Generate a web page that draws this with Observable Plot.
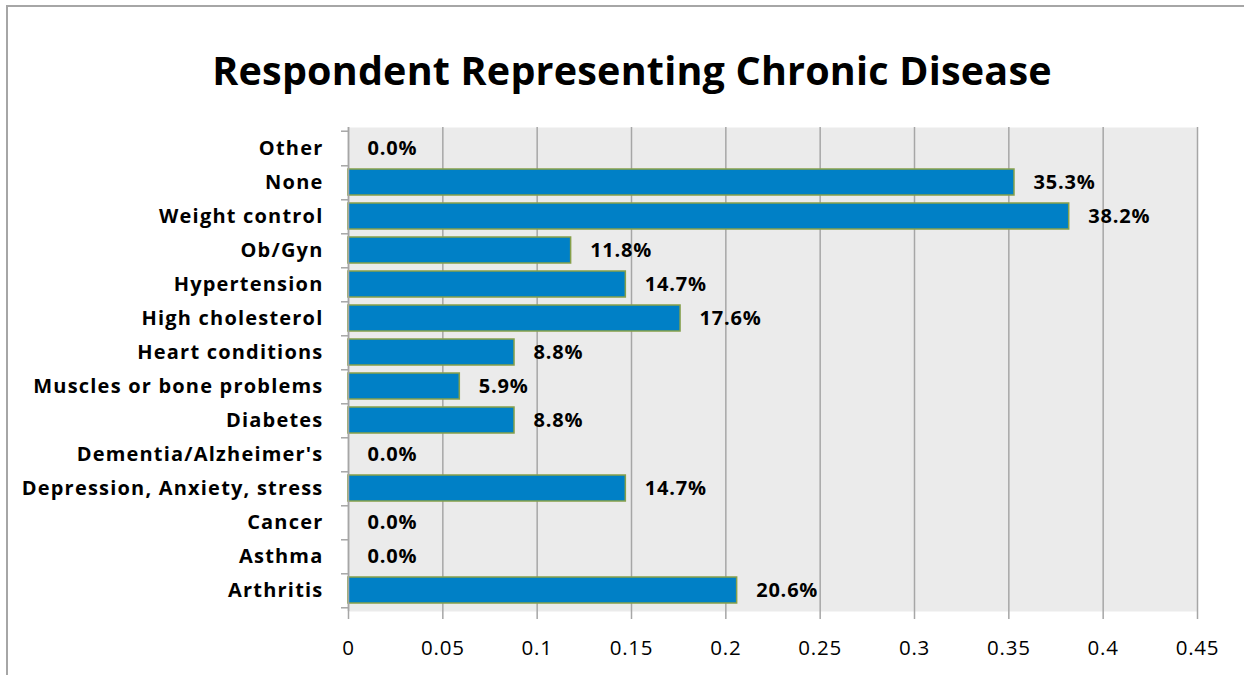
<!DOCTYPE html>
<html>
<head>
<meta charset="utf-8">
<script src="https://cdn.jsdelivr.net/npm/d3@7"></script>
<script src="https://cdn.jsdelivr.net/npm/@observablehq/plot@0.6"></script>
<style>
  html, body { margin: 0; padding: 0; background: #fff; }
  #wrap { position: relative; width: 1244px; height: 675px; overflow: hidden; }
  #frame { position: absolute; left: 6px; top: 5px; width: 1300px; height: 700px;
           border-left: 2px solid #a6a6a6; border-top: 2px solid #a6a6a6; box-sizing: border-box; }
  #title { position: absolute; left: 0; top: 0; width: 1264px; height: 100px; text-align: center;
           font-family: "Open Sans", sans-serif; font-weight: bold; font-size: 39.5px; letter-spacing: 0.2px; line-height: 140px; color: #000; }
  #chart { position: absolute; left: 0; top: 100px; }
  .ylab text { letter-spacing: 1.2px; }
  .vlab text { letter-spacing: 0.8px; }
  .xlab text { letter-spacing: 0.8px; }
</style>
</head>
<body>
<div id="wrap">
  <div id="frame"></div>
  <div id="title">Respondent Representing Chronic Disease</div>
  <div id="chart"></div>
</div>
<script>
const categories = ["Other", "None", "Weight control", "Ob/Gyn", "Hypertension", "High cholesterol",
  "Heart conditions", "Muscles or bone problems", "Diabetes", "Dementia/Alzheimer's",
  "Depression, Anxiety, stress", "Cancer", "Asthma", "Arthritis"];
const values = [0, 0.353, 0.382, 0.118, 0.147, 0.176, 0.088, 0.059, 0.088, 0, 0.147, 0, 0, 0.206];
const valueLabels = ["0.0%", "35.3%", "38.2%", "11.8%", "14.7%", "17.6%", "8.8%", "5.9%", "8.8%", "0.0%", "14.7%", "0.0%", "0.0%", "20.6%"];
const xTicks = [0, 0.05, 0.1, 0.15, 0.2, 0.25, 0.3, 0.35, 0.4, 0.45];
const xTickLabels = ["0", "0.05", "0.1", "0.15", "0.2", "0.25", "0.3", "0.35", "0.4", "0.45"];

const data = categories.map((c, i) => ({category: c, value: values[i], label: valueLabels[i]}));

const W = 1244, H = 575, mT = 27, mB = 64, mL = 348, mR = 47;
const step = (H - mT - mB) / categories.length;

const chart = Plot.plot({
  width: W, height: H,
  marginTop: mT, marginBottom: mB, marginLeft: mL, marginRight: mR,
  style: {fontFamily: "Open Sans, sans-serif", background: "transparent", color: "#000"},
  x: {domain: [0, 0.45]},
  y: {domain: categories, paddingInner: 0.25, paddingOuter: 0.125},
  marks: [
    Plot.frame({fill: "#ebebeb", stroke: null}),
    Plot.gridX(xTicks, {stroke: "#a6a6a6", strokeOpacity: 1, strokeWidth: 1.5}),
    Plot.barX(data, {x: "value", y: "category", fill: "#0080c6", stroke: "#86a04a", strokeWidth: 1.5}),
    Plot.text(data, {x: "value", y: "category", text: "label", textAnchor: "start", dx: 19,
      fontWeight: "bold", fontSize: 20, fill: "#000", className: "vlab"}),
    Plot.ruleX([0], {stroke: "#a6a6a6", strokeWidth: 1.5}),
    Plot.ruleY([0], {stroke: "#a6a6a6", strokeWidth: 1.5}),
    Plot.axisX({ticks: xTicks, tickFormat: (d, i) => xTickLabels[i], tickSize: 8, tickPadding: 21,
      stroke: "#a6a6a6", strokeWidth: 1.5, strokeOpacity: 1, fontSize: 20.5, label: null, className: "xlab"}),
    Plot.axisY({tickSize: 0, tickPadding: 25, fontSize: 20, fontWeight: "bold", label: null, className: "ylab"}),
    Plot.axisY({ticks: categories, text: null, tickSize: 7, dy: step / 2, stroke: "#a6a6a6", strokeWidth: 1.5, strokeOpacity: 1, label: null}),
    Plot.axisY({ticks: [categories[0]], text: null, tickSize: 7, dy: -step / 2, stroke: "#a6a6a6", strokeWidth: 1.5, strokeOpacity: 1, label: null})
  ]
});
document.getElementById("chart").appendChild(chart);
</script>
</body>
</html>
